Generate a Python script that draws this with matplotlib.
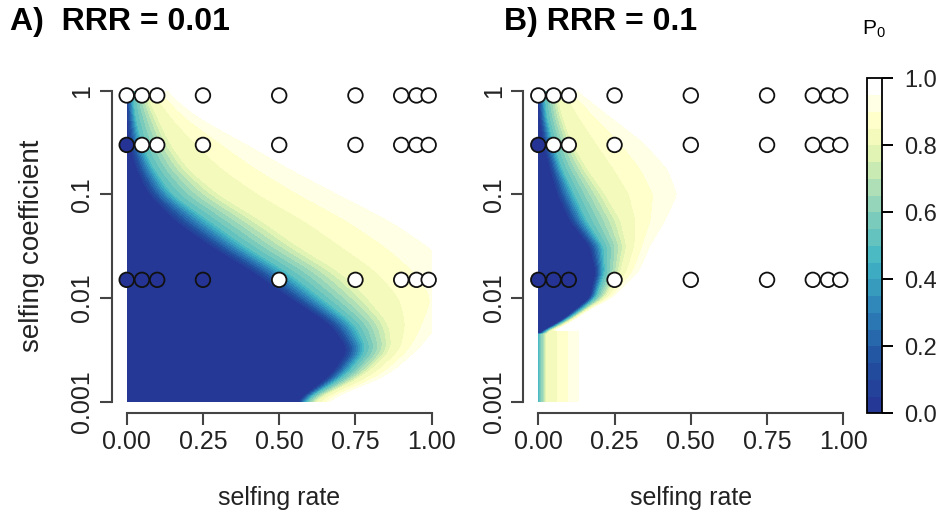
import numpy as np
import matplotlib
matplotlib.use("Agg")
import matplotlib.pyplot as plt
from matplotlib.colors import LinearSegmentedColormap
from matplotlib.ticker import NullLocator

plt.rcParams['font.family'] = ['Liberation Sans', 'DejaVu Sans']
plt.rcParams['mathtext.fontset'] = 'custom'
plt.rcParams['mathtext.rm'] = 'Liberation Sans'
plt.rcParams['mathtext.default'] = 'regular'

# P0 contour positions: for each log10(s) row,
# the selfing rate where P0 crosses 0.05, 0.5, 0.8 and 0.97
p0_levels = [0.05, 0.5, 0.8, 0.97]

logs_a = [0.0, -0.25, -0.5, -0.75, -1.0, -1.25, -1.5, -1.75, -2.0, -2.25, -2.5, -2.75, -3.0]
x05_a = [0.0, 0.003, 0.01, 0.033, 0.075, 0.16, 0.28, 0.42, 0.54, 0.67, 0.73, 0.67, 0.557]
x50_a = [0.02, 0.03, 0.05, 0.09, 0.15, 0.27, 0.39, 0.53, 0.64, 0.75, 0.79, 0.72, 0.58]
x80_a = [0.06, 0.10, 0.14, 0.20, 0.30, 0.44, 0.56, 0.70, 0.79, 0.86, 0.87, 0.78, 0.61]
x97_a = [0.14, 0.25, 0.42, 0.58, 0.75, 0.92, 1.05, 1.12, 1.15, 1.05, 0.97, 0.87, 0.66]

# panel B: the dark region ends at log10(s) = -2.34, below it a thin strip
logs_b = [0.0, -0.25, -0.5, -0.75, -1.0, -1.25, -1.5, -1.75, -2.0, -2.12, -2.21, -2.27, -2.34]
x05_b = [0.0, 0.005, 0.018, 0.04, 0.065, 0.104, 0.17, 0.19, 0.17, 0.12, 0.08, 0.045, 0.0]
x50_b = [0.02, 0.03, 0.05, 0.08, 0.12, 0.16, 0.215, 0.22, 0.19, 0.14, 0.095, 0.06, 0.012]
x80_b = [0.06, 0.08, 0.11, 0.16, 0.22, 0.27, 0.29, 0.27, 0.22, 0.155, 0.11, 0.075, 0.022]
x97_b = [0.14, 0.26, 0.38, 0.46, 0.49, 0.44, 0.38, 0.34, 0.25, 0.17, 0.125, 0.09, 0.035]
strip_top_b = -2.31
strip_b = [-0.02, 0.004, 0.028, 0.15]

# simulation points
self_pts = [0, 0.05, 0.1, 0.25, 0.5, 0.75, 0.9, 0.95, 0.99]
s_pts = [0.9, 0.3, 0.015]
p0_pts_a = [[1, 1, 1, 1, 1, 1, 1, 1, 1],
            [0, 1, 1, 1, 1, 1, 1, 1, 1],
            [0, 0, 0, 0, 1, 1, 1, 1, 1]]
p0_pts_b = [[1, 1, 1, 1, 1, 1, 1, 1, 1],
            [0, 1, 1, 1, 1, 1, 1, 1, 1],
            [0, 0, 0, 1, 1, 1, 1, 1, 1]]

cmap = LinearSegmentedColormap.from_list("p0", [
    (0.0, '#253494'), (0.15, '#23509f'), (0.3, '#2c7fb8'), (0.45, '#41b6c4'),
    (0.6, '#86cfbb'), (0.72, '#c7e9b4'), (0.8, '#edf8b4'), (0.88, '#ffffcc'),
    (0.93, '#ffffe8'), (0.96, '#ffffff'), (1.0, '#ffffff')])


def smooth(v, n=41):
    pad = n // 2
    vp = np.concatenate([np.full(pad, v[0]), v, np.full(pad, v[-1])])
    return np.convolve(vp, np.ones(n) / n, mode='valid')


def row_p0(xg, xs):
    xp = [xs[0] - 0.01] + list(xs) + [xs[-1] + 0.04]
    fp = [0.0] + p0_levels + [1.0]
    return np.interp(xg, xp, fp)


def build_field(logs, bounds, xg, lg, win=41):
    logs = np.array(logs)[::-1]
    inside = lg >= logs[0] - 0.005
    curves = []
    for b in bounds:
        c = np.interp(lg, logs, np.array(b)[::-1])
        c[inside] = smooth(c[inside], win)
        curves.append(c)
    Z = np.ones((len(lg), len(xg)))
    for i in range(len(lg)):
        if inside[i]:
            Z[i] = row_p0(xg, [c[i] for c in curves])
    return Z


W, H = 939, 516
fig = plt.figure(figsize=(W / 100, H / 100), dpi=100)

xg = np.linspace(0, 1, 700)
lg = np.linspace(-3, 0, 700)
levels = np.linspace(0, 1, 21)


def panel(left_px, Z, p0_pts, title, title_x, ylabel):
    ax = fig.add_axes([left_px / W, (H - 401.8) / H, 305 / W, 311.1 / H])
    cs = ax.contourf(xg, 10 ** lg, Z, levels=levels, cmap=cmap, vmin=0, vmax=1)
    ax.set_yscale('log')
    ax.set_xlim(0, 1)
    ax.set_ylim(1e-3, 1)
    for row, s in enumerate(s_pts):
        ax.scatter(self_pts, [s] * len(self_pts), s=110, c=p0_pts[row], cmap=cmap,
                   vmin=0, vmax=1, edgecolors='#111111', linewidths=1.3,
                   clip_on=False, zorder=5)
    for sp in ['top', 'right']:
        ax.spines[sp].set_visible(False)
    ax.spines['left'].set_position(('outward', 10.8))
    ax.spines['bottom'].set_position(('outward', 8))
    ax.spines['left'].set_bounds(1e-3, 1)
    ax.spines['bottom'].set_bounds(0, 1)
    for sp in ['left', 'bottom']:
        ax.spines[sp].set_color('#444444')
        ax.spines[sp].set_linewidth(1.5)
    ax.set_xticks([0, 0.25, 0.5, 0.75, 1.0])
    ax.set_xticklabels(['0.00', '0.25', '0.50', '0.75', '1.00'])
    ax.set_yticks([1e-3, 1e-2, 1e-1, 1])
    ax.set_yticklabels(['0.001', '0.01', '0.1', '1'], rotation=90, va='center')
    ax.yaxis.set_minor_locator(NullLocator())
    ax.tick_params(length=8.5, width=1.5, color='#444444', labelsize=18,
                   labelcolor='#222222', pad=4)
    ax.set_xlabel('selfing rate', fontsize=18, labelpad=23, color='#222222')
    if ylabel:
        ax.set_ylabel('selfing coefficient', fontsize=20, labelpad=18, color='#222222')
    fig.text(title_x / W, 1 - 22 / H, title, fontsize=23, fontweight='bold',
             va='center', ha='left')
    return cs


Z_a = build_field(logs_a, [x05_a, x50_a, x80_a, x97_a], xg, lg)
Z_b = build_field(logs_b, [x05_b, x50_b, x80_b, x97_b], xg, lg, win=21)
strip = np.ones_like(Z_b)
strip[lg < strip_top_b] = row_p0(xg, strip_b)
Z_b = np.minimum(Z_b, strip)

cs = panel(126.7, Z_a, p0_pts_a, 'A)  RRR = 0.01', 10, True)
panel(538.3, Z_b, p0_pts_b, 'B) RRR = 0.1', 504, False)

cax = fig.add_axes([866.7 / W, (H - 413.3) / H, 15 / W, 335 / H])
cb = fig.colorbar(cs, cax=cax, ticks=[0, 0.2, 0.4, 0.6, 0.8, 1.0])
cb.ax.set_yticklabels(['0.0', '0.2', '0.4', '0.6', '0.8', '1.0'])
cb.ax.tick_params(length=8, width=1.4, labelsize=17, labelcolor='#222222', pad=8)
cb.outline.set_linewidth(1.3)
fig.text(874 / W, 1 - 29 / H, r'P$_0$', fontsize=15, ha='center', va='center')

fig.savefig('out.png', dpi=100)
